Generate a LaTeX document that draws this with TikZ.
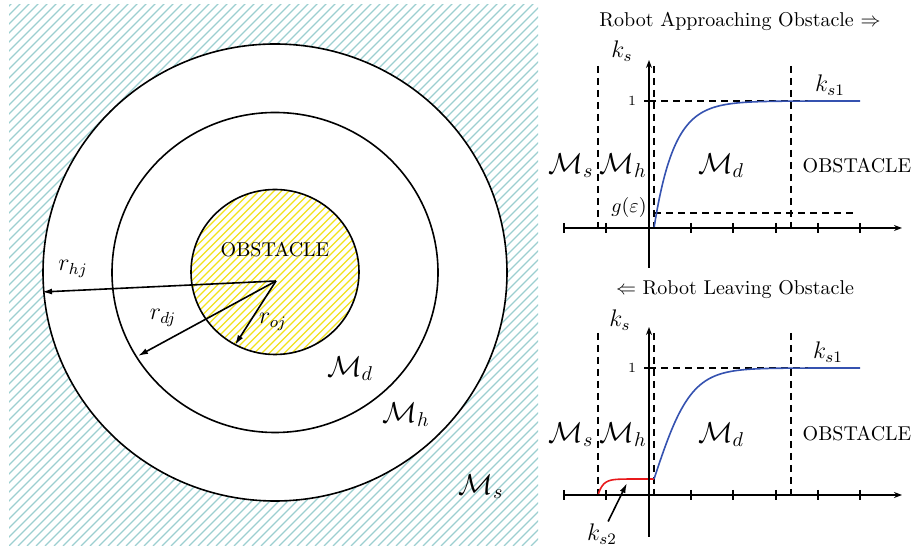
\documentclass[tikz,border=0pt]{standalone}
\usepackage{amsmath}
\usetikzlibrary{arrows.meta}
\definecolor{hatchteal}{HTML}{9CCFD0}
\definecolor{hatchyel}{HTML}{F2E21C}
\definecolor{curveblue}{HTML}{3552B0}
\definecolor{curvered}{HTML}{E8191B}
\begin{document}
\begin{tikzpicture}[x=0.5pt,y=-0.5pt,
  every node/.style={inner sep=1pt},
  ring/.style={draw=black,line width=0.8pt},
  hatchA/.style={draw=hatchteal,line width=0.6pt},
  hatchB/.style={draw=hatchyel,line width=0.6pt},
  radarrow/.style={line width=0.8pt,-{Latex[length=5pt,width=3pt]}},
  axisline/.style={line width=1pt,-{Stealth[length=4pt,width=3pt]}},
  tickline/.style={line width=0.8pt},
  guide/.style={line width=0.7pt,dash pattern=on 3.5pt off 2.5pt},
  bigl/.style={font=\Large},
  midl/.style={font=\large},
  blueplot/.style={curveblue,line width=0.8pt},
  redplot/.style={curvered,line width=0.8pt}
]
\useasboundingbox (0,0) rectangle (916,549);

% ---------- left panel ----------
\begin{scope}
  \clip (9,5) rectangle (538,546);
  \foreach \i in {-540,-531,...,540} \draw[hatchA] (\i,546) -- ++(560,-560);
\end{scope}
\fill[white] (275,272.5) ellipse [x radius=232,y radius=228.5];
\draw[ring] (275,272.5) ellipse [x radius=232,y radius=228.5];
\draw[ring] (275,272.5) ellipse [x radius=163,y radius=160];
\begin{scope}
  \clip (275,272) ellipse [x radius=84,y radius=82.5];
  \foreach \i in {60,67.5,...,320} \draw[hatchB] (\i,360) -- ++(200,-200);
\end{scope}
\draw[ring] (275,272) ellipse [x radius=84,y radius=82.5];

\coordinate (c) at (276,281);
\coordinate (eh) at (42,292);
\coordinate (ed) at (138,356);
\coordinate (eo) at (235,345);
\draw[radarrow] (c) -- (eh);
\draw[radarrow] (c) -- (ed);
\draw[radarrow] (c) -- (eo);

\node (obsL) at (275,250) {OBSTACLE};
\node[midl] (rhj) at (73,269) {$r_{hj}$};
\node[midl] (rdj) at (163,318) {$r_{dj}$};
\node[midl] (roj) at (273,322) {$r_{oj}$};
\node[bigl] (mdL) at (350,369) {$\mathcal{M}_d$};
\node[bigl] (mhL) at (406,415) {$\mathcal{M}_h$};
\node[bigl] (msL) at (481,487) {$\mathcal{M}_s$};

% ---------- top right plot ----------
\node (t1) at (740,21) {Robot Approaching Obstacle $\Rightarrow$};
\coordinate (xa0) at (564,228);
\coordinate (xa1) at (902,228);
\coordinate (ya0) at (649,268);
\coordinate (ya1) at (649,60);
\foreach \t in {564,606,691,733,776,818,860} \draw[tickline] (\t,223) -- (\t,233);
\draw[tickline] (644,101) -- (653,101);
\draw[guide] (598,66) -- (598,228);
\draw[guide] (654,66) -- (654,228);
\draw[guide] (791,66) -- (791,228);
\draw[guide] (649,101) -- (860,101);
\draw[guide] (654,213) -- (855,213);
\draw[blueplot] plot[domain=0:206,samples=140] ({654+\x},{228-127*(1-exp(-\x/20))});
\draw[axisline] (xa0) -- (xa1);
\draw[axisline] (ya0) -- (ya1);
\node[font=\scriptsize] (one1) at (632,101) {1};
\node[midl] (ks1a) at (622,51) {$k_s$};
\node[midl] (ksoa) at (830,85) {$k_{s1}$};
\node[bigl] (msa) at (571,166) {$\mathcal{M}_s$};
\node[bigl] (mha) at (623,166) {$\mathcal{M}_h$};
\node[bigl] (mda) at (721,166) {$\mathcal{M}_d$};
\node (obsa) at (857,166) {OBSTACLE};
\node (ge) at (629,208) {$g(\varepsilon)$};

% ---------- bottom right plot ----------
\node (t2) at (735,290) {$\Leftarrow$ Robot Leaving Obstacle};
\coordinate (xb0) at (564,495);
\coordinate (xb1) at (902,495);
\coordinate (yb0) at (649,537);
\coordinate (yb1) at (649,327);
\foreach \t in {564,606,691,733,776,818,860} \draw[tickline] (\t,490) -- (\t,500);
\draw[tickline] (644,368) -- (653,368);
\draw[guide] (598,333) -- (598,495);
\draw[guide] (654,333) -- (654,495);
\draw[guide] (791,333) -- (791,495);
\draw[guide] (649,368) -- (860,368);
\draw[redplot] plot[domain=0:56,samples=60] ({598+\x},{495-16*(1-exp(-\x/5))});
\draw[blueplot] plot[domain=0:206,samples=140] ({654+\x},{479-111*tanh(\x/37)});
\draw[axisline] (xb0) -- (xb1);
\draw[axisline] (yb0) -- (yb1);
\node[font=\scriptsize] (one2) at (632,368) {1};
\node[midl] (ks1b) at (620,320) {$k_s$};
\node[midl] (ksob) at (828,352) {$k_{s1}$};
\node[bigl] (msb) at (571,435) {$\mathcal{M}_s$};
\node[bigl] (mhb) at (623,435) {$\mathcal{M}_h$};
\node[bigl] (mdb) at (721,435) {$\mathcal{M}_d$};
\node (obsb) at (857,434) {OBSTACLE};
\node[midl] (ks2) at (602,534) {$k_{s2}$};
\coordinate (ks2tip) at (627,483);
\draw[line width=0.8pt,-{Latex[length=5pt,width=3pt]}] (ks2) -- (ks2tip);
\end{tikzpicture}
\end{document}
